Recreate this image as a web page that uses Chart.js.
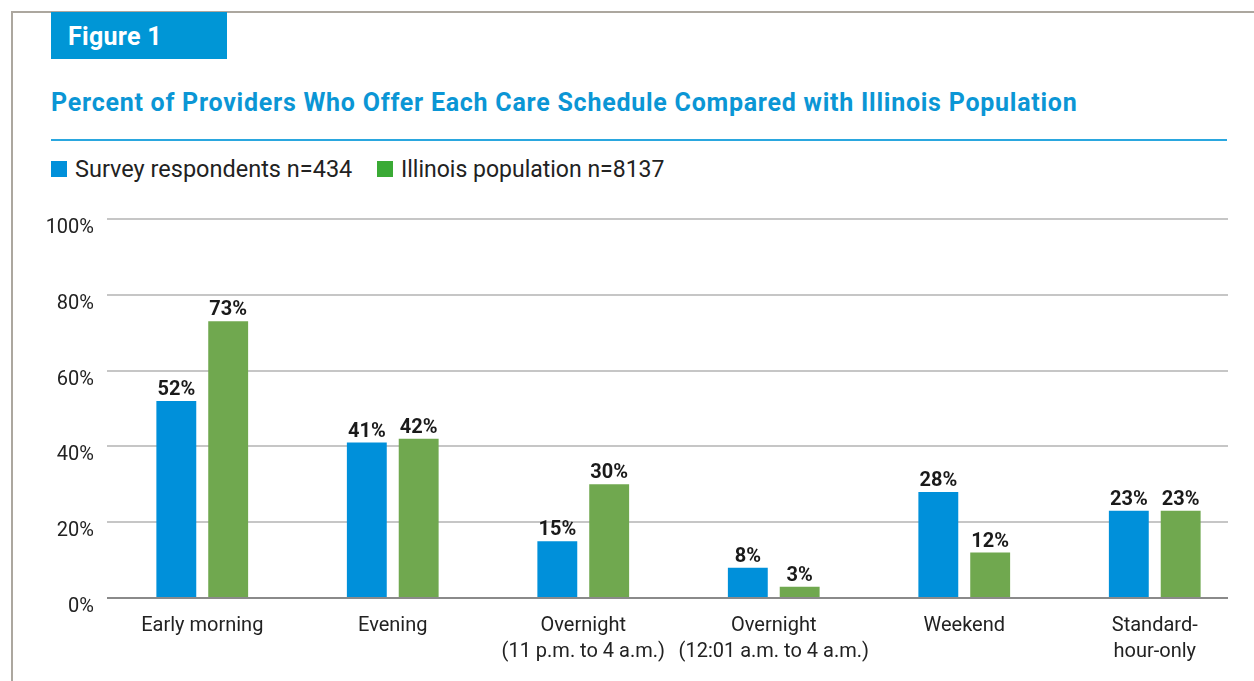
<!DOCTYPE html>
<html>
<head>
<meta charset="utf-8">
<script src="https://cdn.jsdelivr.net/npm/chart.js@4.4.1/dist/chart.umd.min.js"></script>
<style>
body { margin: 0; width: 1254px; height: 681px; overflow: hidden; background: #fff; font-family: Roboto, sans-serif; position: relative; }
#frame { position: absolute; left: 11px; top: 11px; right: 0; bottom: 0; border-top: 2px solid #aca79f; border-left: 2px solid #aca79f; }
#fig { position: absolute; left: 51px; top: 12px; width: 176px; height: 47px; background: #0096d6; }
#figtxt { position: absolute; left: 68px; top: 24px; font-size: 25px; line-height: 25px; letter-spacing: 0.3px; font-weight: bold; color: #fff; white-space: nowrap; }
#title { position: absolute; left: 51px; top: 90px; font-size: 25px; line-height: 25px; letter-spacing: 0.75px; font-weight: bold; color: #0b96d5; white-space: nowrap; }
#rule { position: absolute; left: 51px; top: 139px; width: 1176px; height: 2px; background: #2aa7df; }
.legbox { position: absolute; top: 161px; width: 16px; height: 16px; }
.legtxt { position: absolute; top: 158px; font-size: 23px; line-height: 23px; color: #222; white-space: nowrap; }
#wrap { position: absolute; left: 0; top: 0; width: 1254px; height: 681px; }
</style>
</head>
<body>
<div id="frame"></div>
<div id="fig"></div>
<div id="figtxt">Figure 1</div>
<div id="title">Percent of Providers Who Offer Each Care Schedule Compared with Illinois Population</div>
<div id="rule"></div>
<div class="legbox" style="left:51px;background:#0090da"></div>
<div class="legtxt" style="left:75px;font-size:23.5px">Survey respondents n=434</div>
<div class="legbox" style="left:377px;background:#3aaa35"></div>
<div class="legtxt" style="left:401px">Illinois population n=8137</div>
<div id="wrap"><canvas id="chart" width="1254" height="681"></canvas></div>
<script>
const categories = [
    ['Early morning'],
    ['Evening'],
    ['Overnight', '(11 p.m. to 4 a.m.)'],
    ['Overnight', '(12:01 a.m. to 4 a.m.)'],
    ['Weekend'],
    ['Standard-', 'hour-only']
];
const seriesNames = ['Survey respondents n=434', 'Illinois population n=8137'];
const surveyValues = [52, 41, 15, 8, 28, 23];
const illinoisValues = [73, 42, 30, 3, 12, 23];
const yMin = 0;
const yMax = 100;
const yStep = 20;

// horizontal grid lines stop short of the right edge, zero line is darker
const gridLines = {
    id: 'gridLines',
    beforeDatasetsDraw(chart) {
        const ctx = chart.ctx;
        const y = chart.scales.y;
        const left = chart.chartArea.left;
        const right = chart.chartArea.right - 22;
        ctx.save();
        y.ticks.forEach(t => {
            if (t.value === 0) return;
            const py = Math.round(y.getPixelForValue(t.value));
            ctx.strokeStyle = '#c6c6c6';
            ctx.lineWidth = 2;
            ctx.beginPath();
            ctx.moveTo(left, py);
            ctx.lineTo(right, py);
            ctx.stroke();
        });
        ctx.restore();
    },
    afterDatasetsDraw(chart) {
        const ctx = chart.ctx;
        const y = chart.scales.y;
        const py = Math.round(y.getPixelForValue(0));
        ctx.save();
        ctx.strokeStyle = '#8a8a8a';
        ctx.lineWidth = 2;
        ctx.beginPath();
        ctx.moveTo(chart.chartArea.left, py);
        ctx.lineTo(chart.chartArea.right - 22, py);
        ctx.stroke();
        ctx.restore();
    }
};

// value labels above the bars
const valueLabels = {
    id: 'valueLabels',
    afterDatasetsDraw(chart) {
        const ctx = chart.ctx;
        ctx.save();
        ctx.font = 'bold 20px Roboto';
        ctx.fillStyle = '#1a1a1a';
        ctx.textAlign = 'center';
        ctx.textBaseline = 'alphabetic';
        chart.data.datasets.forEach((ds, i) => {
            chart.getDatasetMeta(i).data.forEach((bar, j) => {
                ctx.fillText(ds.data[j] + '%', bar.x, bar.y - 6);
            });
        });
        ctx.restore();
    }
};

let ctx = document.getElementById('chart').getContext('2d');
let chart = new Chart(ctx, {
    type: 'bar',
    data: {
        labels: categories,
        datasets: [{
            label: seriesNames[0],
            data: surveyValues,
            backgroundColor: '#0090da'
        }, {
            label: seriesNames[1],
            data: illinoisValues,
            backgroundColor: '#70a84f'
        }]
    },
    options: {
        responsive: false,
        animation: false,
        categoryPercentage: 0.5445,
        barPercentage: 0.769,
        layout: { padding: { top: 219, left: 0, right: 4, bottom: 0 } },
        plugins: {
            legend: { display: false },
            tooltip: { enabled: false }
        },
        scales: {
            x: {
                grid: { display: false, drawTicks: false },
                border: { display: false },
                ticks: {
                    color: '#222',
                    font: { family: 'Roboto', size: 20, lineHeight: 1.3 },
                    padding: 15,
                    autoSkip: false,
                    maxRotation: 0
                },
                afterFit(scale) { scale.height = 83; }
            },
            y: {
                min: yMin,
                max: yMax,
                grid: { display: false, drawTicks: false },
                border: { display: false },
                ticks: {
                    stepSize: yStep,
                    color: '#222',
                    font: { family: 'Roboto', size: 20 },
                    padding: 13,
                    labelOffset: 9,
                    callback: v => v + '%'
                },
                afterFit(scale) { scale.width = 107; }
            }
        }
    },
    plugins: [gridLines, valueLabels]
});
</script>
</body>
</html>
